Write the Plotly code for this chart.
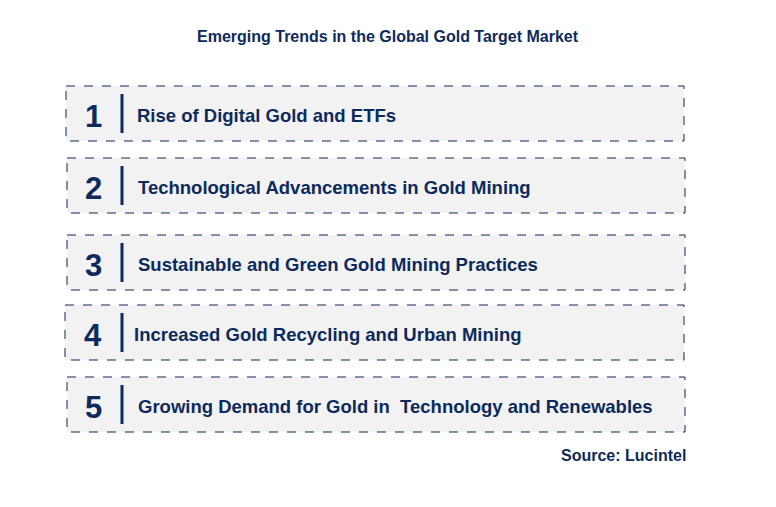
import plotly.graph_objects as go

# Trends listed in the infographic
numbers = ["1", "2", "3", "4", "5"]
trends = [
    "Rise of Digital Gold and ETFs",
    "Technological Advancements in Gold Mining",
    "Sustainable and Green Gold Mining Practices",
    "Increased Gold Recycling and Urban Mining",
    "Growing Demand for Gold in  Technology and Renewables",
]
title = "Emerging Trends in the Global Gold Target Market"
source = "Source: Lucintel"

navy = "#0d2a5c"
font = "Liberation Sans, Arial, sans-serif"

# box layout (pixel coords, top-left origin)
box_x0 = [66, 67, 67, 65, 67]
box_x1 = [684, 685, 685, 684, 685]
box_y0 = [86, 158, 235, 305, 377]
box_h = 55

fig = go.Figure()
shapes = []
annotations = []
for i, (num, txt) in enumerate(zip(numbers, trends)):
    y0 = box_y0[i]
    y1 = y0 + box_h
    ym = (y0 + y1) / 2
    shapes.append(dict(type="rect", x0=box_x0[i], x1=box_x1[i], y0=y0, y1=y1,
                       fillcolor="#f2f2f2", line=dict(color=navy, width=1, dash="dash"),
                       layer="below"))
    shapes.append(dict(type="line", x0=122, x1=122, y0=y0 + 8, y1=y1 - 8,
                       line=dict(color=navy, width=3)))
    annotations.append(dict(x=93, y=ym + 3, text="<b>" + num + "</b>", showarrow=False,
                            font=dict(family=font, size=31, color=navy),
                            xanchor="center", yanchor="middle"))
    annotations.append(dict(x=box_x0[i] + 69 if i != 3 else 132, y=ym + 2, text="<b>" + txt + "</b>",
                            showarrow=False, font=dict(family=font, size=18.5, color=navy),
                            xanchor="left", yanchor="middle"))

annotations.append(dict(x=388, y=36, text="<b>" + title + "</b>", showarrow=False,
                        font=dict(family=font, size=16, color=navy),
                        xanchor="center", yanchor="middle"))
annotations.append(dict(x=688, y=455, text="<b>" + source + "</b>", showarrow=False,
                        font=dict(family=font, size=16, color=navy),
                        xanchor="right", yanchor="middle"))

# page body adds an 8px offset, so shift the visible window to compensate
fig.update_layout(
    width=776, height=507,
    margin=dict(l=0, r=0, t=0, b=0),
    paper_bgcolor="white", plot_bgcolor="white",
    xaxis=dict(range=[8, 784], visible=False, fixedrange=True),
    yaxis=dict(range=[515, 8], visible=False, fixedrange=True),
    shapes=shapes, annotations=annotations, showlegend=False,
)
fig.write_html("out.html")
